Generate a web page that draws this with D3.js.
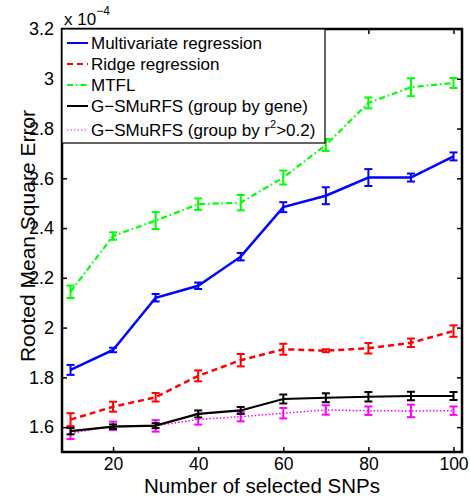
<!DOCTYPE html>
<html>
<head>
<meta charset="utf-8">
<script src="https://cdn.jsdelivr.net/npm/d3@7"></script>
<style>
  html, body { margin: 0; padding: 0; background: #fff; }
  svg { display: block; font-family: "Liberation Sans", Arial, Helvetica, sans-serif; }
</style>
</head>
<body>
<svg id="chart" width="470" height="498"></svg>
<script>
// ---- data (values in units of 1e-4) ----
const snps = [10, 20, 30, 40, 50, 60, 70, 80, 90, 100];
const seriesNames = [
  "Multivariate regression",
  "Ridge regression",
  "MTFL",
  "G\u2212SMuRFS (group by gene)",
  "G\u2212SMuRFS (group by r\u00b2>0.2)"
];
const multivariate    = [1.830, 1.910, 2.120, 2.168, 2.285, 2.484, 2.530, 2.603, 2.603, 2.688];
const multivariateErr = [0.020, 0.009, 0.015, 0.013, 0.015, 0.020, 0.034, 0.034, 0.016, 0.016];
const ridge           = [1.630, 1.682, 1.720, 1.806, 1.869, 1.913, 1.907, 1.917, 1.939, 1.986];
const ridgeErr        = [0.026, 0.020, 0.017, 0.022, 0.025, 0.022, 0.006, 0.021, 0.017, 0.023];
const mtfl            = [2.144, 2.368, 2.430, 2.496, 2.502, 2.603, 2.734, 2.903, 2.966, 2.983];
const mtflErr         = [0.025, 0.015, 0.034, 0.023, 0.031, 0.028, 0.024, 0.022, 0.036, 0.020];
const byGene          = [1.584, 1.602, 1.606, 1.653, 1.667, 1.713, 1.718, 1.722, 1.725, 1.725];
const byGeneErr       = [0.013, 0.009, 0.010, 0.014, 0.014, 0.018, 0.018, 0.019, 0.017, 0.016];
const byR2            = [1.575, 1.605, 1.605, 1.631, 1.642, 1.656, 1.669, 1.666, 1.665, 1.666];
const byR2Err         = [0.023, 0.017, 0.023, 0.021, 0.019, 0.021, 0.019, 0.017, 0.025, 0.017];
const xTicks = [20, 40, 60, 80, 100];
const yTicks = [1.6, 1.8, 2.0, 2.2, 2.4, 2.6, 2.8, 3.0, 3.2];
const xLabel = "Number of selected SNPs";
const yLabel = "Rooted Mean Square Error";

// ---- layout ----
const svg = d3.select("#chart");
const L = 62, R = 462, T = 29, B = 452;
const x = d3.scaleLinear().domain([8, 102]).range([L, R]);
const y = d3.scaleLinear().domain([1.5, 3.2]).range([B, T]);

const styles = [
  { vals: multivariate, err: multivariateErr, color: "#0000ff", dash: null,        w: 2.5, legColor: "#0000ff" },
  { vals: ridge,        err: ridgeErr,        color: "#ff0000", dash: "6,4",       w: 2.5, legColor: "#ff0000" },
  { vals: mtfl,         err: mtflErr,         color: "#00ff00", dash: "6,3,1.5,3", w: 2.2, legColor: "#00ff00" },
  { vals: byGene,       err: byGeneErr,       color: "#000000", dash: null,        w: 2.2, legColor: "#000000" },
  { vals: byR2,         err: byR2Err,         color: "#ff00ff", dash: "1.5,2",     w: 1.5, legColor: "#ff66ff" }
];

const plot = svg.append("g");
const line = d3.line().x((d, i) => x(snps[i])).y(d => y(d));

styles.slice().reverse().forEach(s => {
  const g = plot.append("g");
  g.append("path")
    .attr("d", line(s.vals))
    .attr("fill", "none")
    .attr("stroke", s.color)
    .attr("stroke-width", s.w)
    .attr("stroke-dasharray", s.dash);
  const eb = g.selectAll("g.eb").data(s.vals).enter().append("g");
  eb.append("line")
    .attr("x1", (d, i) => x(snps[i])).attr("x2", (d, i) => x(snps[i]))
    .attr("y1", (d, i) => y(d - s.err[i])).attr("y2", (d, i) => y(d + s.err[i]))
    .attr("stroke", s.color).attr("stroke-width", 2);
  [-1, 1].forEach(sg => {
    eb.append("line")
      .attr("x1", (d, i) => x(snps[i]) - 4).attr("x2", (d, i) => x(snps[i]) + 4)
      .attr("y1", (d, i) => y(d + sg * s.err[i])).attr("y2", (d, i) => y(d + sg * s.err[i]))
      .attr("stroke", s.color).attr("stroke-width", 2);
  });
});

// ---- axes (MATLAB box style, inward ticks) ----
const tk = 5;
const axBottom = d3.axisBottom(x).tickValues(xTicks).tickSize(-tk).tickPadding(6);
const axTop = d3.axisTop(x).tickValues(xTicks).tickSize(-tk).tickFormat("");
const axLeft = d3.axisLeft(y).tickValues(yTicks).tickSize(-tk).tickPadding(8)
  .tickFormat(d => d3.format("")(Math.round(d * 10) / 10));
const axRight = d3.axisRight(y).tickValues(yTicks).tickSize(-tk).tickFormat("");

function styleAxis(g, size) {
  g.select(".domain").remove();
  g.selectAll(".tick line").attr("stroke", "#000").attr("stroke-width", 1.5);
  g.selectAll("text").attr("fill", "#000").style("font-size", (size || 18) + "px")
    .style("font-family", "'Liberation Sans', Arial, sans-serif");
}
svg.append("g").attr("transform", `translate(0,${B})`).call(axBottom).call(styleAxis, 17.5);
svg.append("g").attr("transform", `translate(0,${T})`).call(axTop).call(styleAxis);
svg.append("g").attr("transform", `translate(${L},0)`).call(axLeft).call(styleAxis, 18);
svg.append("g").attr("transform", `translate(${R},0)`).call(axRight).call(styleAxis);

svg.append("rect")
  .attr("x", L).attr("y", T).attr("width", R - L).attr("height", B - T)
  .attr("fill", "none").attr("stroke", "#000").attr("stroke-width", 2.5);

// ---- exponent label ----
const ex = svg.append("text").attr("x", 64).attr("y", 25).attr("fill", "#000")
  .style("font-size", "17px");
ex.append("tspan").text("x 10");
ex.append("tspan").attr("dy", -10).style("font-size", "12px").text("\u22124");

// ---- axis labels ----
svg.append("text").attr("x", (L + R) / 2).attr("y", 493).attr("text-anchor", "middle")
  .attr("fill", "#000").style("font-size", "20.5px").text(xLabel);
svg.append("text").attr("transform", `translate(35,236) rotate(-90)`)
  .attr("text-anchor", "middle").attr("fill", "#000").style("font-size", "21px").text(yLabel);

// ---- legend ----
const leg = svg.append("g");
leg.append("rect").attr("x", L).attr("y", T).attr("width", 325 - L).attr("height", 143 - T)
  .attr("fill", "#fff").attr("stroke", "#000").attr("stroke-width", 1.2);
const legY = [43, 64, 85, 106, 130];
seriesNames.forEach((name, i) => {
  const s = styles[i];
  leg.append("line").attr("x1", 67).attr("x2", 88).attr("y1", legY[i]).attr("y2", legY[i])
    .attr("stroke", s.legColor).attr("stroke-width", s.w === 1.5 ? 1.5 : 2)
    .attr("stroke-dasharray", s.dash);
  const t = leg.append("text").attr("x", 91).attr("y", legY[i] + 6).attr("fill", "#000")
    .style("font-size", "17px");
  if (i === 4) {
    t.append("tspan").text("G\u2212SMuRFS (group by r");
    t.append("tspan").attr("dy", -8).style("font-size", "11px").text("2");
    t.append("tspan").attr("dy", 8).text(">0.2)");
  } else {
    t.text(name);
  }
});
</script>
</body>
</html>
